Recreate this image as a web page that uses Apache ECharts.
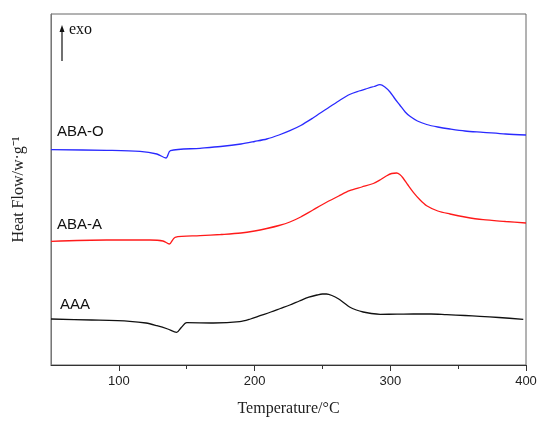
<!DOCTYPE html>
<html lang="en">
<head>
    <meta charset="UTF-8">
    <title>DSC</title>
    <style>
        html, body { margin: 0; padding: 0; background: #fff; }
        #main { width: 550px; height: 427px; }
    </style>
</head>
<body>
<div id="main"></div>
<script src="https://cdn.jsdelivr.net/npm/echarts@6/dist/echarts.min.js"></script>
<script>
// temperature (°C) and heat flow (arbitrary offset units)
var tAAA = [50, 80, 108, 120, 128, 136, 142.6, 146, 150, 169.6, 189, 197, 204, 212, 219, 226, 233, 240, 246, 250, 253, 257, 262, 266, 270, 275, 280, 286, 292.5, 305, 317, 330, 341.6, 355, 366, 380, 398];
var vAAA = [46, 45, 43.7, 42, 39.3, 36, 32.7, 37.5, 42.3, 42, 43.3, 46, 49.3, 53, 56.5, 60, 64, 67.8, 70, 71, 71, 69.5, 66, 62, 58, 55, 53, 51.5, 50.7, 50.8, 51, 51, 50.3, 49.5, 48.7, 47.5, 45.7];

var tABAA = [50, 91, 123, 132.5, 137.2, 141.4, 159.8, 175, 190, 200, 209, 218, 226, 234, 243, 253, 262, 270, 279, 287.5, 293, 297.4, 301, 304.7, 307, 309.4, 313, 317, 322, 326.8, 335, 344, 355, 368.4, 385, 400];
var vABAA = [123.7, 125, 125, 124, 121, 127.7, 129.3, 130.5, 132, 134, 136.5, 139.5, 143, 148, 155, 162.7, 169, 174.3, 178, 181.5, 185.5, 189.3, 191.5, 192, 190.5, 187, 180, 172.7, 165, 159.3, 154, 151, 148, 145.3, 143.5, 142];

var tABAO = [50, 91, 115.6, 128, 134.7, 138, 159.8, 175, 190, 200, 209, 218, 226, 234, 243, 253, 262, 270, 277, 283, 288, 292.4, 296, 299.8, 303, 307, 311, 314.5, 320, 326.8, 335, 344, 355, 368.4, 385, 400];
var vABAO = [215.3, 214.7, 213.7, 211, 207, 214.3, 216.7, 218.5, 221, 223.5, 226, 230, 234.3, 239.5, 247, 256, 264, 270.5, 274, 276.5, 278.5, 280.3, 278, 273, 267, 260, 253, 248.7, 244, 240.5, 238, 236, 234, 232.7, 231, 230];

var majorTicks = [100, 200, 300, 400];
var minorTicks = [150, 250, 350];

function pairs(xs, ys) {
    var out = [];
    for (var i = 0; i < xs.length; i++) out.push([xs[i], ys[i]]);
    return out;
}

var myChart = echarts.init(document.getElementById('main'));

var option = {
    animation: false,
    grid: {
        left: 51, right: 24, top: 14, bottom: 62,
        show: true, borderColor: '#666', borderWidth: 1
    },
    xAxis: [
        {
            type: 'value', min: 50, max: 400, interval: 50,
            name: 'Temperature/\u00b0C',
            nameLocation: 'middle', nameGap: 36,
            nameTextStyle: { fontFamily: 'Liberation Serif', fontSize: 16, color: '#222' },
            axisLine: { show: true, lineStyle: { color: '#333', width: 1 } },
            axisTick: { show: true, length: 6, customValues: majorTicks, lineStyle: { color: '#333' } },
            axisLabel: { customValues: majorTicks, fontFamily: 'Liberation Sans', fontSize: 13, color: '#222', margin: 10 },
            splitLine: { show: false }
        },
        {
            type: 'value', min: 50, max: 400, interval: 50, position: 'bottom',
            axisLine: { show: false },
            axisTick: { show: true, length: 4, customValues: minorTicks, lineStyle: { color: '#333' } },
            axisLabel: { show: false },
            splitLine: { show: false }
        }
    ],
    yAxis: {
        type: 'value', min: 0, max: 351,
        name: 'Heat Flow/w\u00b7g\u207b\u00b9',
        nameLocation: 'middle', nameGap: 24, nameRotate: 90,
        nameTextStyle: { fontFamily: 'Liberation Serif', fontSize: 16, color: '#222' },
        axisLine: { show: true, lineStyle: { color: '#777' } },
        axisTick: { show: false },
        axisLabel: { show: false },
        splitLine: { show: false }
    },
    series: [
        { name: 'AAA', type: 'line', data: pairs(tAAA, vAAA), showSymbol: false, smooth: 0.3,
          lineStyle: { color: '#111', width: 1.3 } },
        { name: 'ABA-A', type: 'line', data: pairs(tABAA, vABAA), showSymbol: false, smooth: 0.3,
          lineStyle: { color: '#ff1a1a', width: 1.3 } },
        { name: 'ABA-O', type: 'line', data: pairs(tABAO, vABAO), showSymbol: false, smooth: 0.3,
          lineStyle: { color: '#2a2aff', width: 1.3 } }
    ],
    graphic: [
        { type: 'text', left: 57, top: 124, style: { text: 'ABA-O', font: '15px "Liberation Sans"', fill: '#111' } },
        { type: 'text', left: 57, top: 217, style: { text: 'ABA-A', font: '15px "Liberation Sans"', fill: '#111' } },
        { type: 'text', left: 60, top: 297, style: { text: 'AAA', font: '15px "Liberation Sans"', fill: '#111' } },
        { type: 'line', shape: { x1: 62, y1: 61, x2: 62, y2: 30 }, style: { stroke: '#111', lineWidth: 1.2 } },
        { type: 'polygon', shape: { points: [[62, 25], [59.5, 32], [64.5, 32]] }, style: { fill: '#111' } },
        { type: 'text', left: 69, top: 22, style: { text: 'exo', font: '16px "Liberation Serif"', fill: '#111' } }
    ]
};

myChart.setOption(option);
</script>
</body>
</html>
